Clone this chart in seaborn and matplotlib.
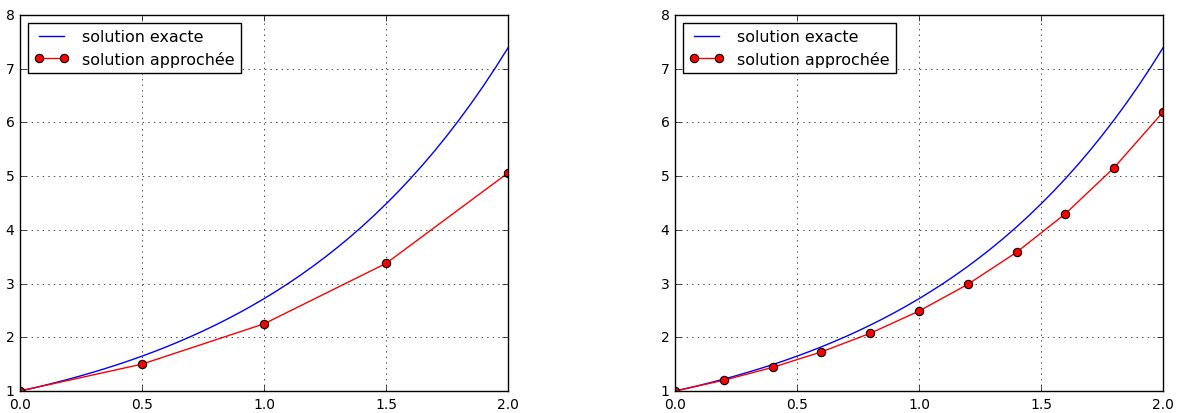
import matplotlib
matplotlib.use("Agg")
import matplotlib.pyplot as plt
import seaborn as sns
import pandas as pd

# style "classic" (ancien matplotlib)
plt.style.use("classic")
plt.rcParams["font.size"] = 10
plt.rcParams["font.family"] = ["DejaVu Sans"]

# ==========================================
# DONNEES
# ==========================================
x_exacte = [0.0, 0.05, 0.1, 0.15, 0.2, 0.25, 0.3, 0.35, 0.4, 0.45, 0.5,
            0.55, 0.6, 0.65, 0.7, 0.75, 0.8, 0.85, 0.9, 0.95, 1.0,
            1.05, 1.1, 1.15, 1.2, 1.25, 1.3, 1.35, 1.4, 1.45, 1.5,
            1.55, 1.6, 1.65, 1.7, 1.75, 1.8, 1.85, 1.9, 1.95, 2.0]
y_exacte = [1.000, 1.051, 1.105, 1.162, 1.221, 1.284, 1.350, 1.419, 1.492, 1.568, 1.649,
            1.733, 1.822, 1.916, 2.014, 2.117, 2.226, 2.340, 2.460, 2.586, 2.718,
            2.858, 3.004, 3.158, 3.320, 3.490, 3.669, 3.857, 4.055, 4.263, 4.482,
            4.711, 4.953, 5.207, 5.474, 5.755, 6.050, 6.360, 6.686, 7.029, 7.389]

x_approx_1 = [0.0, 0.5, 1.0, 1.5, 2.0]
y_approx_1 = [1.0, 1.5, 2.25, 3.375, 5.06]

x_approx_2 = [0.0, 0.2, 0.4, 0.6, 0.8, 1.0, 1.2, 1.4, 1.6, 1.8, 2.0]
y_approx_2 = [1.0, 1.2, 1.44, 1.728, 2.074, 2.488, 2.986, 3.583, 4.300, 5.160, 6.192]

approximations = [(x_approx_1, y_approx_1), (x_approx_2, y_approx_2)]

# ==========================================
# FIGURE
# ==========================================
fig, axes = plt.subplots(1, 2, figsize=(11.8, 4.14), dpi=100)
fig.patch.set_facecolor("white")
plt.subplots_adjust(left=0.0169, right=0.9856, bottom=0.0531, top=0.9614, wspace=0.342)

df_exacte = pd.DataFrame({"x": x_exacte, "y": y_exacte})

for ax, (xa, ya) in zip(axes, approximations):
    df_approx = pd.DataFrame({"x": xa, "y": ya})
    sns.lineplot(data=df_exacte, x="x", y="y", ax=ax, color="blue", linewidth=1,
                 estimator=None, label="solution exacte")
    sns.lineplot(data=df_approx, x="x", y="y", ax=ax, color="red", linewidth=1,
                 marker="o", markersize=6, markerfacecolor="red", markeredgecolor="black",
                 markeredgewidth=0.8, estimator=None, label="solution approchée")
    ax.set_xlim(0, 2)
    ax.set_ylim(1, 8)
    ax.set_xticks([0.0, 0.5, 1.0, 1.5, 2.0])
    ax.set_yticks(range(1, 9))
    ax.set_xlabel("")
    ax.set_ylabel("")
    ax.grid(True, color="black", linestyle=":", linewidth=0.5)
    ax.legend(loc="upper left", numpoints=2, fontsize=11.4, frameon=True, fancybox=False,
              handlelength=2.2, borderpad=0.4, labelspacing=0.4)

plt.savefig("out.png", dpi=100, facecolor="white")
